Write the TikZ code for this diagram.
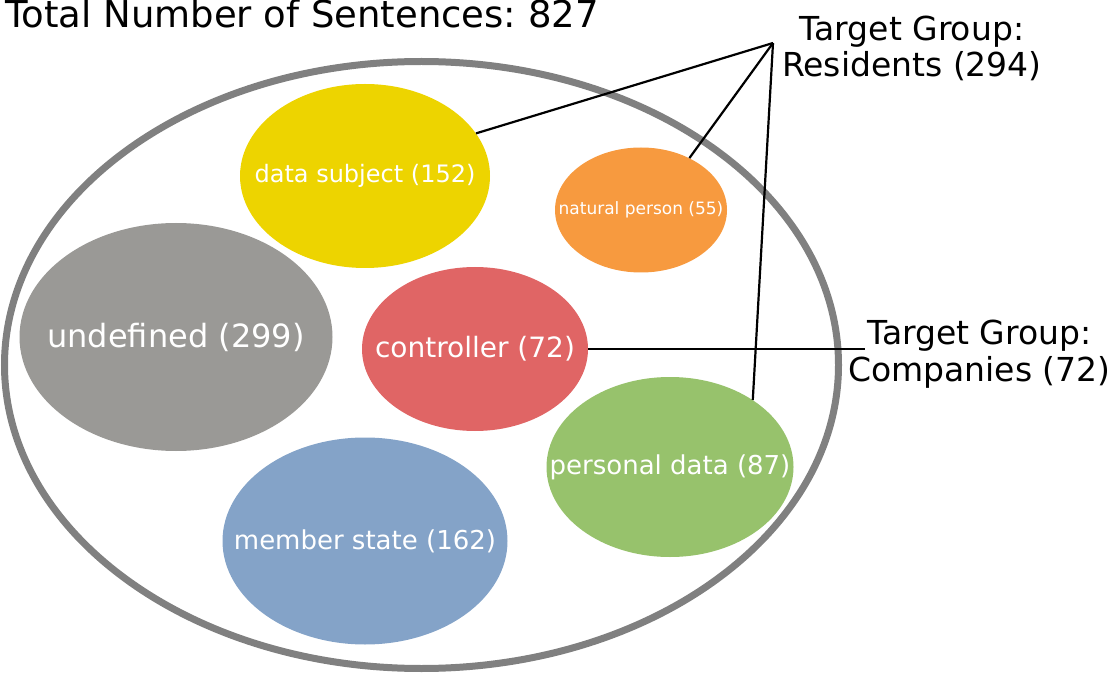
\documentclass[tikz,border=0pt]{standalone}
\usepackage{fontspec}
\setmainfont{DejaVu Sans}
\usepackage{xcolor}
\usetikzlibrary{shapes.geometric}
\frenchspacing
\definecolor{subjyellow}{HTML}{EDD400}
\definecolor{personorange}{HTML}{F79A3F}
\definecolor{undefgray}{HTML}{9A9996}
\definecolor{ctrlred}{HTML}{E06565}
\definecolor{datagreen}{HTML}{97C26C}
\definecolor{statesblue}{HTML}{84A3C8}
\definecolor{rimgray}{HTML}{808080}

\begin{document}
\begin{tikzpicture}[
  x=1pt, y=-1pt,
  blob/.style={ellipse, fill=#1, draw=none, inner sep=0pt},
  fs/.style={font=\fontsize{#1}{#1}\selectfont},
  tag/.style={text=white, inner sep=0pt},
  link/.style={line width=2.2pt}
]
\useasboundingbox (0,0) rectangle (1111,676);

% all sentences
\node[ellipse, draw=rimgray, line width=7pt, inner sep=0pt,
  minimum width=834, minimum height=607] (all) at (421.5,365) {};
\node[fs=37, anchor=base west, inner sep=0pt] (total) at (5,28)
  {Total Number of Sentences: 827};

% groups
\node[blob=subjyellow, minimum width=250, minimum height=184,
  label={[tag, fs=24]center:data subject (152)}] (ds) at (365,176) {};
\node[blob=personorange, minimum width=172, minimum height=125,
  label={[tag, fs=17]center:natural person (55)}] (np) at (641,210) {};
\node[blob=undefgray, minimum width=313, minimum height=228,
  label={[tag, fs=32]center:undefined (299)}] (undef) at (176,337) {};
\node[blob=ctrlred, minimum width=226, minimum height=164,
  label={[tag, fs=28]center:controller (72)}] (ctrl) at (475,349) {};
\node[blob=datagreen, minimum width=247, minimum height=180,
  label={[tag, fs=26]center:personal data (87)}] (pd) at (670,467) {};
\node[blob=statesblue, minimum width=285, minimum height=207,
  label={[tag, fs=26]center:member state (162)}] (ms) at (365,541) {};

% target groups
\node[fs=33, align=center, anchor=north, inner sep=0pt] (residents) at (912,16)
  {Target Group:\\[3pt]Residents (294)};
\node[fs=33, align=center, anchor=north, inner sep=0pt] (companies) at (979.5,320)
  {Target Group:\\[4pt]Companies (72)};

\coordinate (hub) at (773,43);
\coordinate (cend) at (865,349);

\draw[link] (hub) -- (ds.21);
\draw[link] (hub) -- (np.47);
\draw[link] (hub) -- (pd.39);
\draw[link] (ctrl.east) -- (cend);

\end{tikzpicture}
\end{document}
